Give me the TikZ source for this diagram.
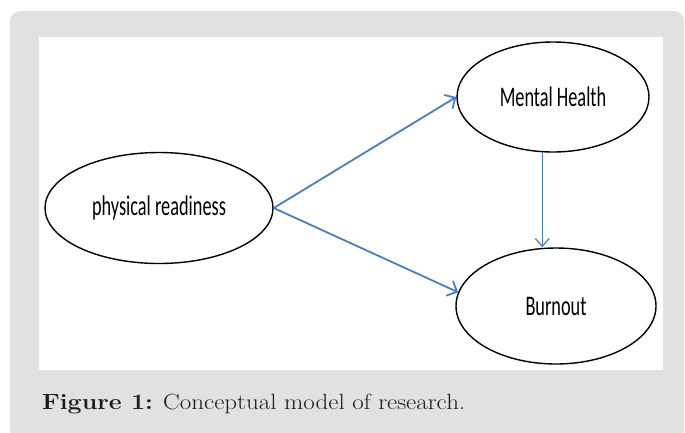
\documentclass[tikz,border=0pt]{standalone}
\usepackage{fontspec}
\usepackage{graphicx}
\usetikzlibrary{shapes.geometric,arrows.meta}
\newfontfamily\labelfont{Carlito}
\definecolor{panelgray}{RGB}{225,225,225}
\definecolor{arrowblue}{RGB}{74,126,187}
\definecolor{captiongray}{RGB}{28,28,28}
\newcommand{\vartext}[1]{\labelfont\fontsize{18.3}{20}\selectfont\scalebox{1}[1.55]{#1}}
\begin{document}
\begin{tikzpicture}[x=1pt,y=-1pt,
    var/.style={ellipse, draw=black, line width=1.4pt, fill=white, inner sep=0pt},
    link/.style={draw=arrowblue, line width=1.8pt, -{Straight Barb[length=8pt,width=16pt,line width=1.8pt]}},
    thinlink/.style={draw=arrowblue, line width=1.2pt, -{Straight Barb[length=8pt,width=14pt,line width=1.2pt]}}]
  \useasboundingbox (0,0) rectangle (685,432);
  % frame and panel
  \fill[panelgray, rounded corners=10pt] (10,11) rectangle (684,440);
  \fill[white] (39,37) rectangle (663,370);

  % variables
  \node[var, minimum width=228pt, minimum height=111pt] (readiness) at (159,208) {\vartext{physical readiness}};
  \node[var, minimum width=192pt, minimum height=110pt] (mental) at (553,97) {\vartext{Mental Health}};
  \node[var, minimum width=200pt, minimum height=116pt] (burnout) at (556,306) {\vartext{Burnout}};

  % paths
  \draw[link] (readiness.east) -- (mental.west);
  \draw[link] (readiness.east) -- (burnout.172);
  \draw[thinlink] (mental.259) -- (mental.259 |- burnout.north);

  % caption
  \node[anchor=base west, inner sep=0pt, text=captiongray, font=\fontsize{22}{26}\selectfont] (caption) at (42,409)
    {\scalebox{1.137}[1]{\textbf{Figure 1:} Conceptual model of research.}};
\end{tikzpicture}
\end{document}
